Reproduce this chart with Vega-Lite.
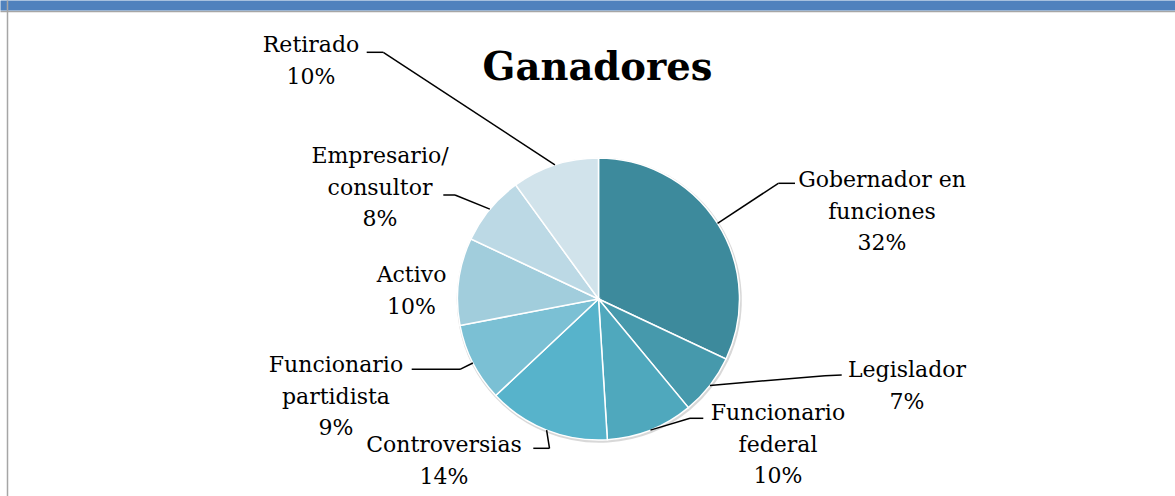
{
  "$schema": "https://vega.github.io/schema/vega-lite/v6.json",
  "width": 1175,
  "height": 496,
  "autosize": {"type": "fit", "contains": "padding"},
  "padding": 0,
  "background": "white",
  "title": {
    "text": "Ganadores",
    "font": "DejaVu Serif",
    "fontSize": 38.5,
    "fontWeight": "bold",
    "color": "#000000",
    "anchor": "middle",
    "frame": "group",
    "baseline": "alphabetic",
    "offset": -118,
    "dx": 10
  },
  "config": {
    "view": {"stroke": null},
    "axisX": {"domainColor": "#4F81BD", "domainWidth": 10, "ticks": false, "labels": false, "grid": false, "title": null, "zindex": 2},
    "axisY": {"domainColor": "#A6A6A6", "domainWidth": 1.5, "ticks": false, "labels": false, "grid": true, "gridColor": "#A6A6A6", "gridWidth": 1.5, "title": null, "zindex": 1}
  },
  "data": {
    "values": [
      {"order": 1, "category": "Gobernador en funciones", "label": "Gobernador en\nfunciones", "value": 32},
      {"order": 2, "category": "Legislador", "label": "Legislador", "value": 7},
      {"order": 3, "category": "Funcionario federal", "label": "Funcionario\nfederal", "value": 10},
      {"order": 4, "category": "Controversias", "label": "Controversias", "value": 14},
      {"order": 5, "category": "Funcionario partidista", "label": "Funcionario\npartidista", "value": 9},
      {"order": 6, "category": "Activo", "label": "Activo", "value": 10},
      {"order": 7, "category": "Empresario/consultor", "label": "Empresario/\nconsultor", "value": 8},
      {"order": 8, "category": "Retirado", "label": "Retirado", "value": 10}
    ]
  },
  "transform": [
    {"window": [{"op": "sum", "field": "value", "as": "cum"}], "sort": [{"field": "order"}], "frame": [null, 0]},
    {"calculate": "(datum.cum - datum.value / 2) / 100 * 2 * PI", "as": "mid"},
    {"calculate": "141 * sin(datum.mid)", "as": "ex"},
    {"calculate": "141 * cos(datum.mid)", "as": "ey"},
    {"calculate": "[283.5, 308.5, 179.5, -154.5, -262.5, -187, -218.5, -287.5][datum.order - 1]", "as": "lx"},
    {"calculate": "[112, -78, -121, -153, -73, 17, 136, 247][datum.order - 1]", "as": "ly"},
    {"calculate": "[179.8, 226.5, 91.5, -49, -138.5, 0, -143.5, -215.2][datum.order - 1]", "as": "bx"},
    {"calculate": "[115.7, -76.7, -119.3, -149.3, -70.3, 0, 104, 246.7][datum.order - 1]", "as": "by"},
    {"calculate": "[196.5, 243.2, 104.8, -65.2, -186.8, 0, -155.2, -231.8][datum.order - 1]", "as": "tx"},
    {"calculate": "[115.7, -76, -119.3, -149.3, -70.3, 0, 104, 246.7][datum.order - 1]", "as": "ty"},
    {"calculate": "datum.label + '\\n' + datum.value + '%'", "as": "txt"}
  ],
  "layer": [
    {
      "mark": {"type": "arc", "outerRadius": 142.5, "color": "#B8B8B8", "opacity": 0.55},
      "encoding": {
        "x": {"datum": 0.8, "type": "quantitative", "scale": {"domain": [-598.5, 576.5], "nice": false, "zero": false}, "axis": {"orient": "top", "offset": -5, "title": null}},
        "y": {"datum": -1.2, "type": "quantitative", "scale": {"domain": [-197, 299], "nice": false, "zero": false}, "axis": {"orient": "left", "offset": -7, "values": [288], "title": null}},
        "theta": {"field": "value", "type": "quantitative", "stack": true},
        "order": {"field": "order", "type": "quantitative"}
      }
    },
    {
      "mark": {"type": "arc", "outerRadius": 141, "stroke": "white", "strokeWidth": 1.5},
      "encoding": {
        "x": {"datum": 0, "type": "quantitative", "scale": {"domain": [-598.5, 576.5], "nice": false, "zero": false}, "axis": {"orient": "top", "offset": -5, "title": null}},
        "y": {"datum": 0, "type": "quantitative", "scale": {"domain": [-197, 299], "nice": false, "zero": false}, "axis": {"orient": "left", "offset": -7, "values": [288], "title": null}},
        "theta": {"field": "value", "type": "quantitative", "stack": true},
        "order": {"field": "order", "type": "quantitative"},
        "color": {
          "field": "category",
          "type": "nominal",
          "legend": null,
          "scale": {
            "domain": ["Gobernador en funciones", "Legislador", "Funcionario federal", "Controversias", "Funcionario partidista", "Activo", "Empresario/consultor", "Retirado"],
            "range": ["#3D8A9C", "#4699AC", "#4FA8BD", "#57B3CB", "#7BC0D4", "#A1CDDC", "#BCD9E5", "#D1E3EB"]
          }
        }
      }
    },
    {
      "transform": [{"filter": "datum.order != 6"}],
      "mark": {"type": "rule", "color": "#000000", "strokeWidth": 1.5},
      "encoding": {
        "x": {"field": "ex", "type": "quantitative", "scale": {"domain": [-598.5, 576.5], "nice": false, "zero": false}, "title": null},
        "y": {"field": "ey", "type": "quantitative", "scale": {"domain": [-197, 299], "nice": false, "zero": false}, "title": null},
        "x2": {"field": "bx"},
        "y2": {"field": "by"}
      }
    },
    {
      "transform": [{"filter": "datum.order != 6"}],
      "mark": {"type": "rule", "color": "#000000", "strokeWidth": 1.5},
      "encoding": {
        "x": {"field": "bx", "type": "quantitative", "scale": {"domain": [-598.5, 576.5], "nice": false, "zero": false}, "title": null},
        "y": {"field": "by", "type": "quantitative", "scale": {"domain": [-197, 299], "nice": false, "zero": false}, "title": null},
        "x2": {"field": "tx"},
        "y2": {"field": "ty"}
      }
    },
    {
      "mark": {"type": "text", "font": "DejaVu Serif", "fontSize": 22, "color": "#000000", "align": "center", "baseline": "alphabetic", "lineBreak": "\n", "lineHeight": 31.5},
      "encoding": {
        "x": {"field": "lx", "type": "quantitative", "scale": {"domain": [-598.5, 576.5], "nice": false, "zero": false}, "title": null},
        "y": {"field": "ly", "type": "quantitative", "scale": {"domain": [-197, 299], "nice": false, "zero": false}, "title": null},
        "text": {"field": "txt"}
      }
    }
  ]
}
